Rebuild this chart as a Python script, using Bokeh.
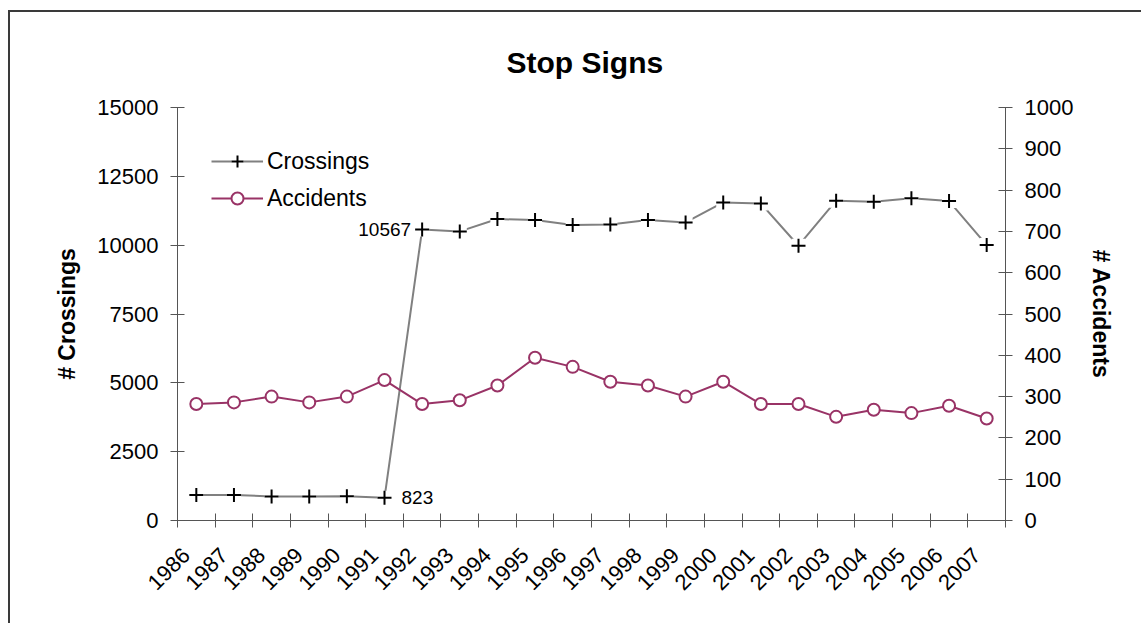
import math
from bokeh.plotting import figure
from bokeh.models import (Range1d, LinearAxis, FixedTicker, Legend, LegendItem,
                          ColumnDataSource)
from bokeh.core.properties import value
from bokeh.embed import file_html
from bokeh.resources import INLINE

# ---- data ----
years = ["1986", "1987", "1988", "1989", "1990", "1991", "1992", "1993", "1994",
         "1995", "1996", "1997", "1998", "1999", "2000", "2001", "2002", "2003",
         "2004", "2005", "2006", "2007"]
crossings = [930, 930, 870, 870, 880, 823, 10567, 10500, 10950, 10910, 10730,
             10750, 10910, 10825, 11550, 11515, 9980, 11615, 11580, 11700, 11600, 10005]
accidents = [282, 286, 300, 286, 300, 340, 282, 291, 327, 394, 372, 336, 327,
             300, 336, 282, 282, 251, 268, 260, 278, 247]
left_ticks = [0, 2500, 5000, 7500, 10000, 12500, 15000]
right_ticks = [0, 100, 200, 300, 400, 500, 600, 700, 800, 900, 1000]
labelled_years = ["1991", "1992"]

FONT = "Liberation Sans"
CROSS_COLOR = "#808080"
ACC_COLOR = "#993366"
AXIS_COLOR = "#555555"

n = len(years)
xs = [i + 0.5 for i in range(n)]
label_pos = [x - 0.27 for x in xs]  # year label anchors, shifted like Excel's rotated labels

p = figure(width=1133, height=613, output_backend="svg", toolbar_location=None,
           x_range=Range1d(0, n), y_range=Range1d(0, 15000),
           min_border_left=167, min_border_right=138, min_border_top=95,
           min_border_bottom=105, title="Stop Signs")
p.styles = {"margin-left": "8px", "margin-top": "10px",
            "border-left": "2px solid #3a3a3a", "border-top": "2px solid #3a3a3a"}
p.extra_y_ranges = {"acc": Range1d(0, 1000)}
p.outline_line_color = None
p.xgrid.visible = False
p.ygrid.visible = False
p.background_fill_color = "white"
p.border_fill_color = "white"

p.title.text_font = FONT
p.title.text_font_size = "30px"
p.title.text_font_style = "bold"
p.title.text_color = "black"
p.title.align = "left"
p.title.offset = 329
p.title.standoff = 58

# x axis: labels near category centres, ticks (minor) at boundaries
xa = p.xaxis[0]
xa.ticker = FixedTicker(ticks=label_pos, minor_ticks=list(range(n + 1)))
xa.major_label_overrides = {x: y for x, y in zip(label_pos, years)}
xa.major_tick_in = 0
xa.major_tick_out = 0
xa.minor_tick_in = 7
xa.minor_tick_out = 7
xa.minor_tick_line_color = AXIS_COLOR
xa.axis_line_color = AXIS_COLOR
xa.major_label_orientation = math.pi / 4
xa.major_label_text_font = FONT
xa.major_label_text_font_size = "22px"
xa.major_label_text_color = "black"
xa.major_label_standoff = 24

ya = p.yaxis[0]
ya.ticker = FixedTicker(ticks=left_ticks, minor_ticks=[])
ya.major_tick_in = 7
ya.major_tick_out = 7
ya.minor_tick_in = 0
ya.minor_tick_out = 0
ya.axis_line_color = AXIS_COLOR
ya.major_tick_line_color = AXIS_COLOR
ya.major_label_text_font = FONT
ya.major_label_text_font_size = "22px"
ya.major_label_text_color = "black"
ya.major_label_standoff = 12
ya.axis_label = "# Crossings"
ya.axis_label_text_font = FONT
ya.axis_label_text_font_size = "23px"
ya.axis_label_text_font_style = "bold"
ya.axis_label_text_color = "black"
ya.axis_label_standoff = 14

ra = LinearAxis(y_range_name="acc", ticker=FixedTicker(ticks=right_ticks, minor_ticks=[]))
ra.major_tick_in = 7
ra.major_tick_out = 7
ra.minor_tick_in = 0
ra.minor_tick_out = 0
ra.axis_line_color = AXIS_COLOR
ra.major_tick_line_color = AXIS_COLOR
ra.major_label_text_font = FONT
ra.major_label_text_font_size = "22px"
ra.major_label_text_color = "black"
ra.major_label_standoff = 12
ra.axis_label = "# Accidents"
ra.axis_label_text_font = FONT
ra.axis_label_text_font_size = "23px"
ra.axis_label_text_font_style = "bold"
ra.axis_label_text_color = "black"
ra.axis_label_standoff = 12
p.add_layout(ra, "right")

src_c = ColumnDataSource(dict(x=xs, y=crossings))
src_a = ColumnDataSource(dict(x=xs, y=accidents))

c_line = p.line("x", "y", source=src_c, line_color=CROSS_COLOR, line_width=2)
c_bg = p.scatter("x", "y", source=src_c, marker="square", size=14,
                 fill_color="white", line_color=None)
c_mark = p.scatter("x", "y", source=src_c, marker="cross", size=14,
                   line_color="black", line_width=2)

a_line = p.line("x", "y", source=src_a, y_range_name="acc",
                line_color=ACC_COLOR, line_width=2)
a_mark = p.scatter("x", "y", source=src_a, y_range_name="acc", marker="circle",
                   size=12, fill_color="white", line_color=ACC_COLOR, line_width=2)

# data labels
i0 = years.index(labelled_years[0])
i1 = years.index(labelled_years[1])
p.text(x=[xs[i1]], y=[crossings[i1]], text=[str(crossings[i1])],
       text_font=value(FONT), text_font_size="19px", text_align="right",
       text_baseline="middle", x_offset=-11, text_color="black")
p.text(x=[xs[i0]], y=[crossings[i0]], text=[str(crossings[i0])],
       text_font=value(FONT), text_font_size="19px", text_align="left",
       text_baseline="middle", x_offset=17, text_color="black")

legend = Legend(items=[LegendItem(label="Crossings", renderers=[c_line, c_bg, c_mark]),
                       LegendItem(label="Accidents", renderers=[a_line, a_mark])],
                location=(34, 307))
legend.label_text_font = FONT
legend.label_text_font_size = "23px"
legend.label_text_color = "black"
legend.label_height = 26
legend.glyph_height = 30
legend.glyph_width = 52
legend.spacing = 7
legend.padding = 0
legend.margin = 0
legend.label_standoff = 4
legend.border_line_color = None
legend.background_fill_alpha = 0
p.add_layout(legend, "center")

open("out.html", "w").write(file_html(p, INLINE))
